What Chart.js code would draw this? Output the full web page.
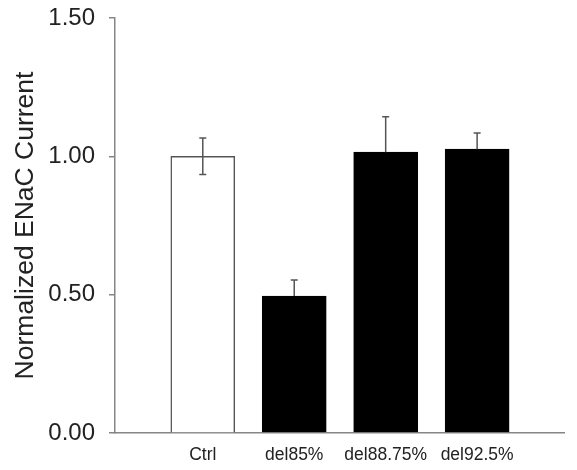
<!DOCTYPE html>
<html>
<head>
<meta charset="utf-8">
<script src="https://cdn.jsdelivr.net/npm/chart.js@4/dist/chart.umd.min.js"></script>
<style>
  html, body { margin: 0; padding: 0; background: #fff; }
  #wrap { width: 577px; height: 470px; position: relative; }
</style>
</head>
<body>
<div id="wrap"><canvas id="chart" width="577" height="470"></canvas></div>
<script>
// chart values
const categories = ['Ctrl', 'del85%', 'del88.75%', 'del92.5%'];
const positions = [1, 2, 3, 4];
const values = [1.00, 0.495, 1.015, 1.026];
const errors = [0.066, 0.058, 0.128, 0.058];
const yTicks = [0, 0.5, 1.0, 1.5];

const axisGray = '#858585';
const fills = ['#ffffff', '#000000', '#000000', '#000000'];

// draw error bars on top of the bars (lower whisker only where visible)
const errorBars = {
  id: 'errorBars',
  afterDatasetsDraw(chart) {
    const ctx = chart.ctx;
    const meta = chart.getDatasetMeta(0);
    const y = chart.scales.y;
    ctx.save();
    ctx.strokeStyle = '#555555';
    ctx.lineWidth = 1.5;
    meta.data.forEach((bar, i) => {
      const x = bar.x;
      const top = y.getPixelForValue(values[i] + errors[i]);
      const mid = y.getPixelForValue(values[i]);
      const bottom = fills[i] === '#ffffff' ? y.getPixelForValue(values[i] - errors[i]) : mid;
      ctx.beginPath();
      ctx.moveTo(x, top);
      ctx.lineTo(x, bottom);
      ctx.moveTo(x - 3.5, top);
      ctx.lineTo(x + 3.5, top);
      if (bottom !== mid) {
        ctx.moveTo(x - 3.5, bottom);
        ctx.lineTo(x + 3.5, bottom);
      }
      ctx.stroke();
    });
    ctx.restore();
  }
};

const ctx = document.getElementById('chart').getContext('2d');
new Chart(ctx, {
  type: 'bar',
  data: {
    datasets: [{
      data: positions.map((p, i) => ({ x: p, y: values[i] })),
      backgroundColor: fills,
      borderColor: ['#555555', '#000000', '#000000', '#000000'],
      borderWidth: 1.5,
      barThickness: 64
    }]
  },
  options: {
    responsive: false,
    animation: false,
    layout: { padding: { top: 18, right: 13, left: 0, bottom: 0 } },
    plugins: { legend: { display: false }, tooltip: { enabled: false } },
    scales: {
      x: {
        type: 'linear',
        offset: false,
        min: 0.04,
        max: 4.95,
        afterBuildTicks(scale) {
          scale.ticks = positions.map(v => ({ value: v }));
        },
        afterFit(scale) { scale.height = 37; },
        grid: { display: false },
        border: { color: axisGray, width: 1.5 },
        ticks: {
          callback: (v) => categories[positions.indexOf(v)] || '',
          color: '#222',
          font: { family: 'Liberation Sans, Arial', size: 17.5 },
          padding: 4,
          maxRotation: 0,
          autoSkip: false
        }
      },
      y: {
        min: 0,
        max: 1.5,
        afterBuildTicks(scale) {
          scale.ticks = yTicks.map(v => ({ value: v }));
        },
        afterFit(scale) {
          scale.width = 115;
          scale.paddingTop = 0;
          scale.paddingBottom = 0;
        },
        grid: { drawOnChartArea: false, tickLength: 6, color: axisGray, lineWidth: 1.5 },
        border: { color: axisGray, width: 1.5 },
        ticks: {
          callback: (v) => v.toFixed(2),
          color: '#222',
          font: { family: 'Liberation Sans, Arial', size: 24 },
          padding: 14
        },
        title: {
          display: true,
          text: 'Normalized ENaC Current',
          color: '#222',
          font: { family: 'Liberation Sans, Arial', size: 26.5 },
          padding: { top: 10, bottom: 0 }
        }
      }
    }
  },
  plugins: [errorBars]
});
</script>
</body>
</html>
